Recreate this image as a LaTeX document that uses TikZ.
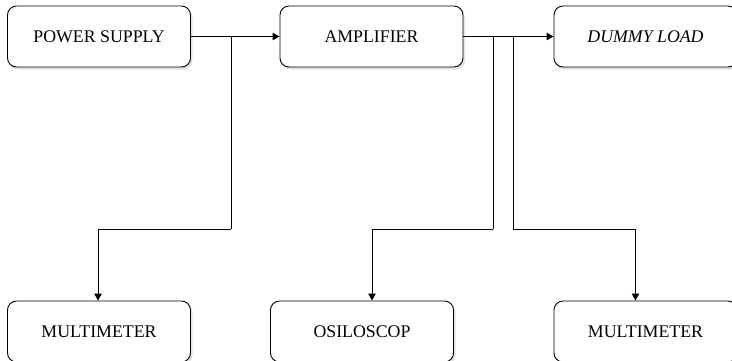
\documentclass[tikz,border=0pt]{standalone}
\usepackage{fontspec}
\setmainfont{Liberation Serif}
\usetikzlibrary{arrows.meta,shadows}

\tikzset{
  block/.style={draw, line width=0.9pt, rounded corners=9pt, fill=white,
    minimum width=183pt, minimum height=61pt, inner sep=0pt,
    font=\fontsize{17.8}{20}\selectfont,
    drop shadow={shadow xshift=2pt, shadow yshift=-2.5pt, fill=black!22}},
  wire/.style={line width=0.9pt, -{Triangle[length=7pt,width=7.5pt]}},
  plain/.style={line width=0.9pt}
}

\begin{document}
\begin{tikzpicture}[x=1pt, y=-1pt]
    \useasboundingbox (0,0) rectangle (732,360);
    \clip (0,0) rectangle (732,360);
    \fill[white] (0,0) rectangle (732,360);
    % top row
    \node[block] (psu) at (99,36.5) {POWER SUPPLY};
    \node[block] (amp) at (371.5,36.5) {AMPLIFIER};
    \node[block] (load) at (645.5,36.5) {\itshape DUMMY LOAD};
    % bottom row
    \node[block] (mm1) at (99,331.5) {MULTIMETER};
    \node[block] (osc) at (362,331.5) {OSILOSCOP};
    \node[block] (mm2) at (645.5,331.5) {MULTIMETER};
    % junctions and bends
    \coordinate (j1) at (231,36.5);
    \coordinate (b1) at (231,229);
    \coordinate (j2) at (493,36.5);
    \coordinate (b2) at (493,229);
    \coordinate (j3) at (513,36.5);
    \coordinate (b3) at (513,229);
    % connectors
    \draw[wire] (psu.east) -- (amp.west);
    \draw[wire] (amp.east) -- (load.west);
    \draw[plain] (j1) -- (b1);
    \draw[wire] (b1) -| ([xshift=-1pt]mm1.north);
    \draw[plain] (j2) -- (b2);
    \draw[wire] (b2) -| ([xshift=10pt]osc.north);
    \draw[plain] (j3) -- (b3);
    \draw[wire] (b3) -| ([xshift=-10pt]mm2.north);
\end{tikzpicture}
\end{document}
